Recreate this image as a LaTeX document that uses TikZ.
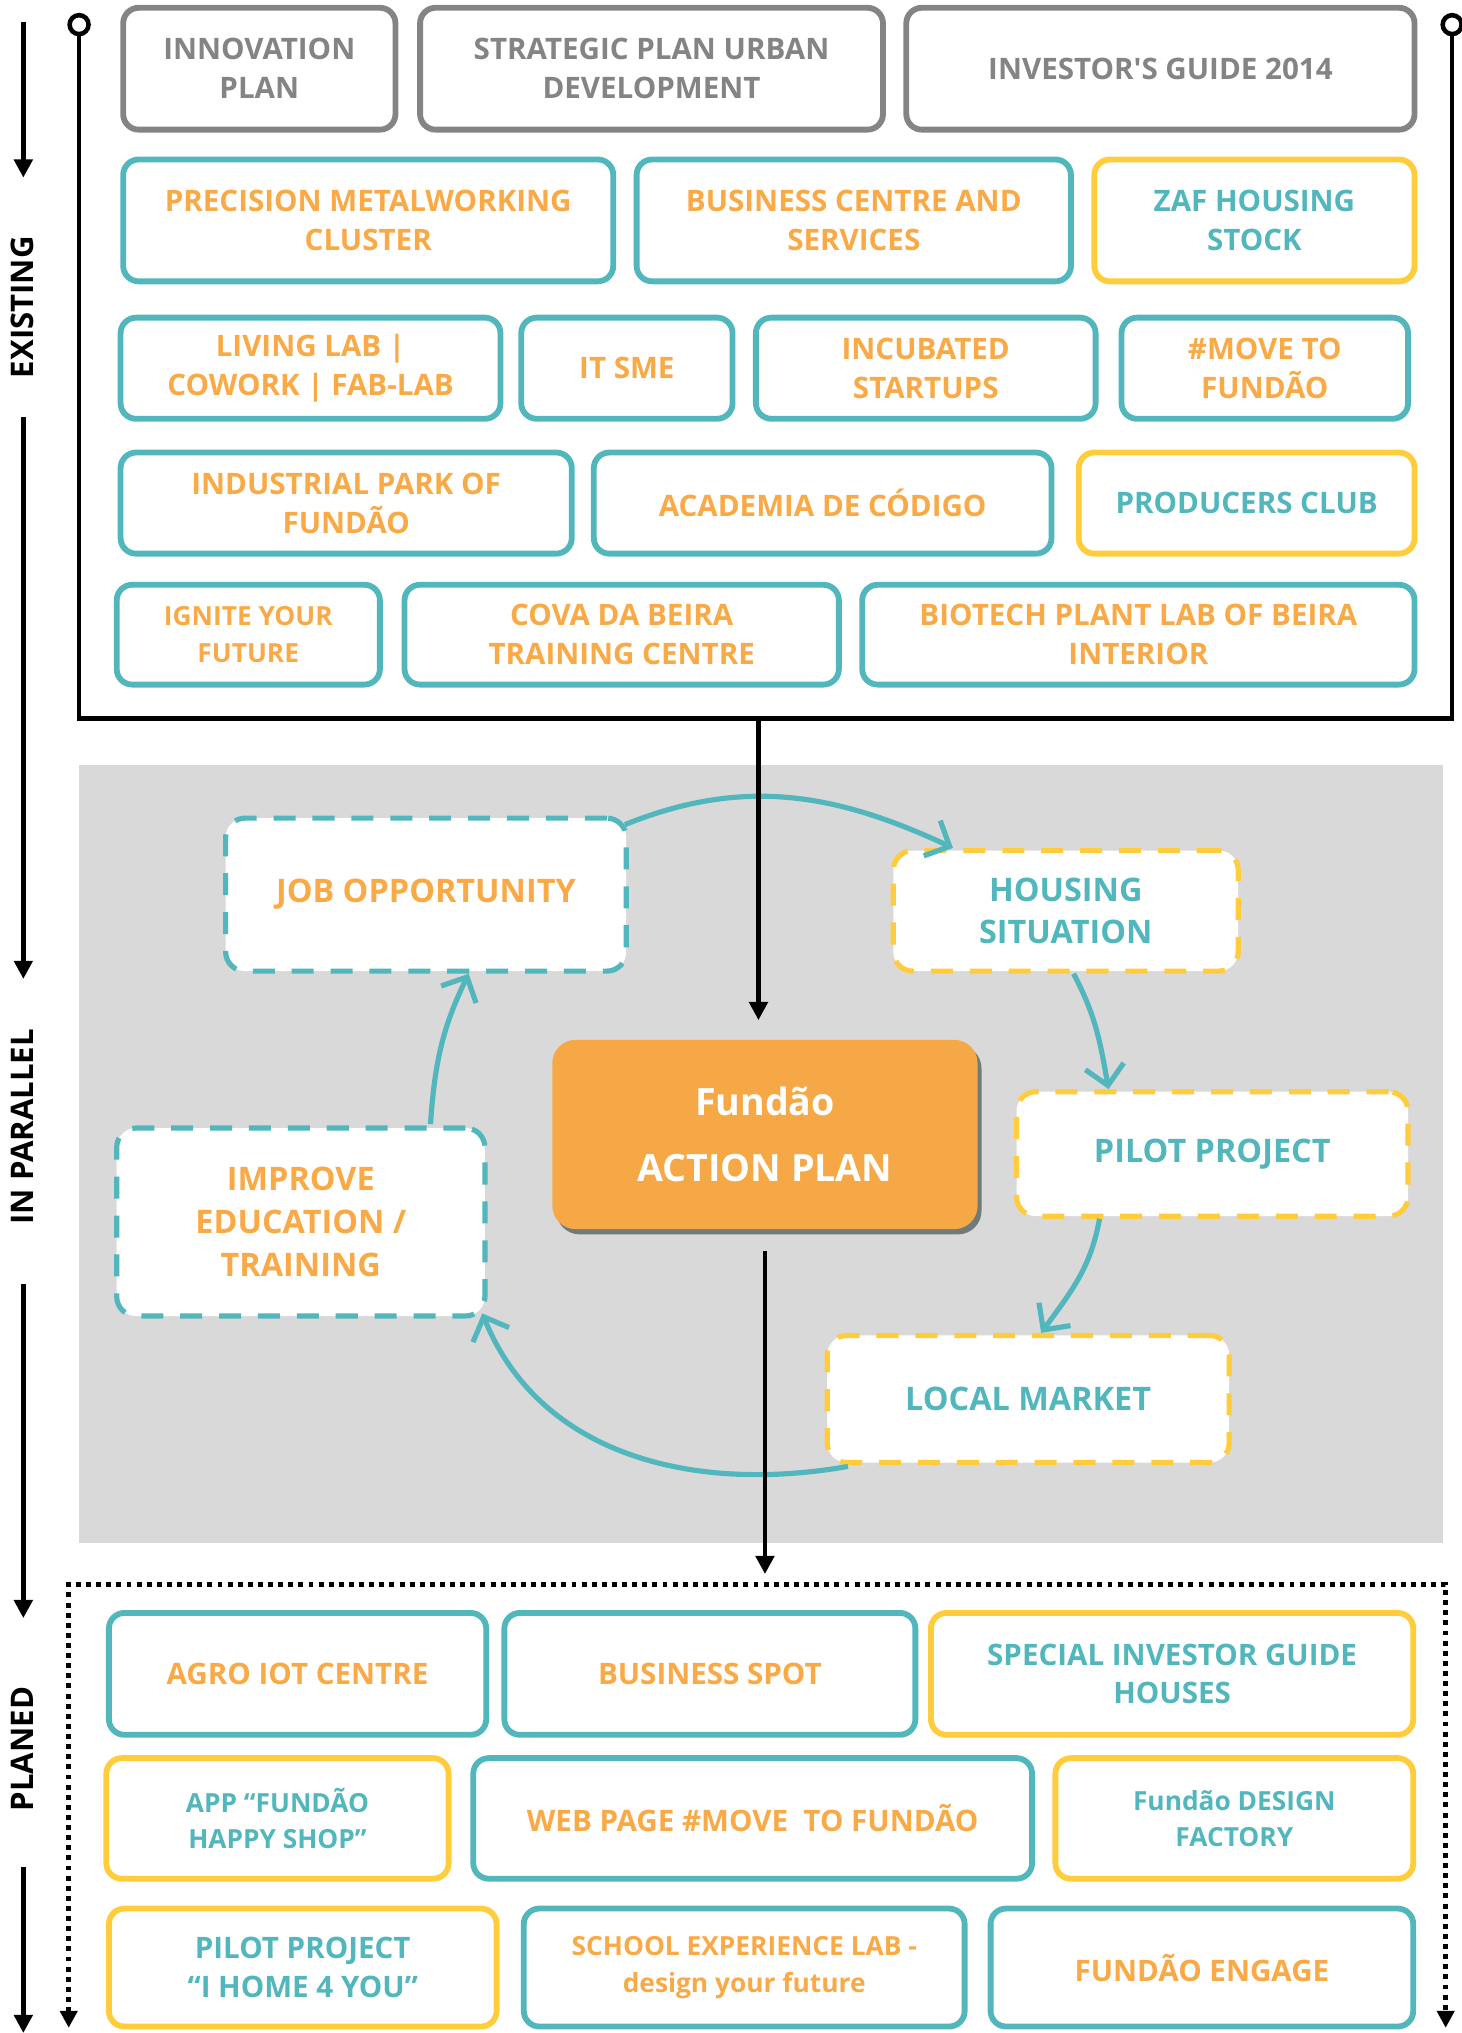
\documentclass[tikz,border=0pt]{standalone}
\usepackage{fontspec}
\setmainfont{Open Sans}
\usetikzlibrary{arrows.meta,calc,shadows}

\definecolor{cteal}{HTML}{52B7BD}
\definecolor{corange}{HTML}{F9A945}
\definecolor{cyellow}{HTML}{FFCC3B}
\definecolor{cgray}{HTML}{848484}
\definecolor{cbg}{HTML}{D9D9D9}
\definecolor{cplan}{HTML}{F6A846}
\definecolor{cshadow}{HTML}{6F7B7B}

\begin{document}
\begin{tikzpicture}[x=1pt,y=-1pt,
		box/.style={rounded corners=12pt,line width=4.5pt,align=center,inner sep=0pt,font=\bfseries\fontsize{22.8}{30}\selectfont},
		gbox/.style={box,draw=cgray,text=cgray},
		tbox/.style={box,draw=cteal,text=corange},
		ybox/.style={box,draw=cyellow,text=cteal},
		dbox/.style={fill=white,rounded corners=15pt,line width=4pt,dash pattern=on 17pt off 13pt,align=center,inner sep=0pt,font=\bfseries\fontsize{25}{33}\selectfont},
		tdash/.style={dbox,draw=cteal,text=corange},
		ydash/.style={dbox,draw=cyellow,text=cteal},
		small/.style={font=\bfseries\fontsize{20.3}{28}\selectfont},
		frame/.style={line width=3.5pt},
		flow/.style={line width=3.5pt,-{Triangle[length=14pt,width=14pt]}},
		planframe/.style={line width=3.6pt,dash pattern=on 3.8pt off 4pt,{Triangle[length=13pt,width=13pt]}-{Triangle[length=13pt,width=13pt]}},
		cyc/.style={draw=cteal,line width=4pt,-{Straight Barb[length=15pt,width=30pt]}},
		side/.style={rotate=90,inner sep=0pt,font=\bfseries\fontsize{24}{24}\selectfont}]

	\useasboundingbox (0,0) rectangle (1127,1568);
	\fill[cbg] (61,590) rectangle (1113,1190);

	\coordinate (exTL)  at (61,19);
	\coordinate (exTR)  at (1120,19);
	\coordinate (exBL)  at (61,554);
	\coordinate (exBR)  at (1120,554);
	\coordinate (exMid) at (585,554);
	\draw[frame] (exTL) -- (exBL) -- (exBR) -- (exTR);
	\draw[frame,fill=white] (exTL) circle[radius=7.3pt];
	\draw[frame,fill=white] (exTR) circle[radius=7.3pt];

	\node[gbox,minimum width=210pt,minimum height=94pt] (innov)  at (200,53)   {INNOVATION\\PLAN};
	\node[gbox,minimum width=357pt,minimum height=94pt] (strat)  at (502.5,53) {STRATEGIC PLAN URBAN\\DEVELOPMENT};
	\node[gbox,minimum width=392pt,minimum height=94pt] (invest) at (895,53)   {INVESTOR\textquotesingle S GUIDE 2014};

	\node[tbox,minimum width=378pt,minimum height=94pt] (precision) at (284,170)   {PRECISION METALWORKING\\CLUSTER};
	\node[tbox,minimum width=335pt,minimum height=94pt] (bcentre)   at (658.5,170) {BUSINESS CENTRE AND\\SERVICES};
	\node[ybox,minimum width=247pt,minimum height=94pt] (zaf)       at (967.5,170) {ZAF HOUSING\\STOCK};

	\node[tbox,minimum width=293pt,minimum height=78pt] (livlab) at (239.5,284) {LIVING LAB |\\COWORK | FAB-LAB};
	\node[tbox,minimum width=163pt,minimum height=78pt] (itsme)  at (483.5,284) {IT SME};
	\node[tbox,minimum width=262pt,minimum height=78pt] (incub)  at (714,284)   {INCUBATED\\STARTUPS};
	\node[tbox,minimum width=221pt,minimum height=78pt] (moveto) at (975.5,284) {\#MOVE TO\\FUNDÃO};

	\node[tbox,minimum width=348pt,minimum height=78pt] (indpark)   at (267,388)   {INDUSTRIAL PARK OF\\FUNDÃO};
	\node[tbox,minimum width=353pt,minimum height=78pt] (academia)  at (634.5,388) {ACADEMIA DE CÓDIGO};
	\node[ybox,minimum width=259pt,minimum height=78pt] (producers) at (961.5,388) {PRODUCERS CLUB};

	\node[tbox,small,minimum width=203pt,minimum height=77pt] (ignite) at (191.5,489.5) {IGNITE YOUR\\FUTURE};
	\node[tbox,minimum width=335pt,minimum height=77pt] (cova)    at (479.5,489.5) {COVA DA BEIRA\\TRAINING CENTRE};
	\node[tbox,minimum width=426pt,minimum height=77pt] (biotech) at (878,489.5)   {BIOTECH PLANT LAB OF BEIRA\\INTERIOR};

	\node[tdash,minimum width=309pt,minimum height=118pt] (job)     at (328.5,690)   {JOB OPPORTUNITY};
	\node[ydash,minimum width=266pt,minimum height=93pt]  (housing) at (822,702.5)   {HOUSING\\SITUATION};
	\node[ydash,minimum width=302pt,minimum height=96pt]  (pilot)   at (935,890)     {PILOT PROJECT};
	\node[ydash,minimum width=310pt,minimum height=98pt]  (local)   at (793,1079)    {LOCAL MARKET};
	\node[tdash,minimum width=284pt,minimum height=145pt] (improve) at (232,942.5)   {IMPROVE\\EDUCATION /\\TRAINING};
	\node[fill=cplan,text=white,rounded corners=18pt,align=center,inner sep=0pt,minimum width=328pt,minimum height=146pt,
		font=\bfseries\fontsize{29}{51}\selectfont,
		drop shadow={shadow xshift=3pt,shadow yshift=-4pt,fill=cshadow,opacity=1}] (action) at (590,875) {Fundão\\ACTION PLAN};

	\draw[cyc] ($(job.north east)+(-3,7)$) to[out=22,in=155] ($(housing.north west)+(48,0)$);
	\draw[cyc] ($(housing.south)+(6,0)$) to[out=-62,in=100] ($(pilot.north west)+(73,0)$);
	\draw[cyc] ($(pilot.south)+(-87,0)$) to[out=-100,in=54] ($(local.north)+(10,0)$);
	\draw[cyc] ($(local.south west)+(18,1)$) to[out=190,in=-68] ($(improve.south east)+(-4,-4)$);
	\draw[cyc] ($(improve.north)+(100,-1)$) to[out=86,in=-116] ($(job.south)+(33,0)$);

	\coordinate (plTL) at (53,1222);
	\coordinate (plTR) at (1115,1222);
	\coordinate (plBL) at (53,1564);
	\coordinate (plBR) at (1115,1564);
	\coordinate (plMid) at (590,1222);
	\draw[planframe] (plBL) -- (plTL) -- (plTR) -- (plBR);

	\draw[flow,shorten >=15pt] (exMid) -- (exMid |- action.north);
	\draw[flow,shorten >=8pt] ([yshift=-17pt]action.south) -- (plMid);

	\node[tbox,minimum width=291pt,minimum height=94pt] (agro)    at (229.5,1291) {AGRO IOT CENTRE};
	\node[tbox,minimum width=317pt,minimum height=94pt] (bspot)   at (547.5,1291) {BUSINESS SPOT};
	\node[ybox,minimum width=372pt,minimum height=94pt] (special) at (904,1291)   {SPECIAL INVESTOR GUIDE\\HOUSES};

	\node[ybox,small,minimum width=264pt,minimum height=93pt] (app)    at (214,1402.5)   {APP “FUNDÃO\\HAPPY SHOP”};
	\node[tbox,minimum width=431pt,minimum height=93pt]       (webpage) at (580.5,1402.5) {WEB PAGE \#MOVE~ TO FUNDÃO};
	\node[ybox,small,minimum width=276pt,minimum height=93pt] (design) at (952,1402.5)   {Fundão DESIGN\\FACTORY};

	\node[ybox,minimum width=299pt,minimum height=91pt]       (ihome)  at (233.5,1517.5) {PILOT PROJECT\\“I HOME 4 YOU”};
	\node[tbox,small,minimum width=340pt,minimum height=91pt] (school) at (574,1517.5)   {SCHOOL EXPERIENCE LAB -\\design your future};
	\node[tbox,minimum width=326pt,minimum height=91pt]       (engage) at (927,1517.5)   {FUNDÃO ENGAGE};

	\node[side] (lblExisting) at (17,237)  {EXISTING};
	\node[side] (lblParallel) at (17,869)  {IN PARALLEL};
	\node[side] (lblPlaned)   at (17,1349) {PLANED};
	\coordinate (s1) at (18,17);
	\coordinate (e1) at (18,137);
	\coordinate (s2) at (18,322);
	\coordinate (e2) at (18,755);
	\coordinate (s3) at (18,990);
	\coordinate (e3) at (18,1248);
	\coordinate (s4) at (18,1440);
	\coordinate (e4) at (18,1568);
	\draw[flow] (s1) -- (e1);
	\draw[flow] (s2) -- (e2);
	\draw[flow] (s3) -- (e3);
	\draw[flow] (s4) -- (e4);
\end{tikzpicture}
\end{document}
